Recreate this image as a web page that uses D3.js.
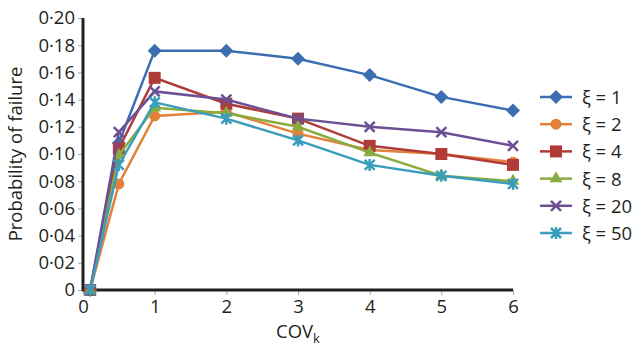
<!DOCTYPE html>
<html>
<head>
<meta charset="utf-8">
<script src="https://cdn.jsdelivr.net/npm/d3@7"></script>
<style>
  body { margin: 0; background: #fff; }
  text { font-family: "Open Sans", "Noto Sans", sans-serif; fill: #231f20; }
</style>
</head>
<body>
<div id="chart"></div>
<script>
var svgWidth = 640;
var svgHeight = 347;

var margin = { top: 18, right: 127, bottom: 57, left: 83 };
var width = svgWidth - margin.left - margin.right;
var height = svgHeight - margin.top - margin.bottom;

// data
var covValues = [0.1, 0.5, 1, 2, 3, 4, 5, 6];
var seriesNames = ["ξ = 1", "ξ = 2", "ξ = 4", "ξ = 8", "ξ = 20", "ξ = 50"];
var xi1 = [0, 0.108, 0.176, 0.176, 0.170, 0.158, 0.142, 0.132];
var xi2 = [0, 0.078, 0.128, 0.131, 0.115, 0.103, 0.100, 0.094];
var xi4 = [0, 0.104, 0.156, 0.137, 0.126, 0.106, 0.100, 0.092];
var xi8 = [0, 0.099, 0.134, 0.130, 0.120, 0.101, 0.084, 0.080];
var xi20 = [0, 0.116, 0.146, 0.140, 0.126, 0.120, 0.116, 0.106];
var xi50 = [0, 0.092, 0.138, 0.126, 0.110, 0.092, 0.084, 0.078];
var xTicks = [0, 1, 2, 3, 4, 5, 6];
var yTicks = [0, 0.02, 0.04, 0.06, 0.08, 0.10, 0.12, 0.14, 0.16, 0.18, 0.20];

var colors = ["#3b6db0", "#e2823a", "#b03b38", "#8aab3f", "#6c4f94", "#3a9dbb"];
var markers = ["diamond", "circle", "square", "triangle", "x", "asterisk"];
var allSeries = [xi1, xi2, xi4, xi8, xi20, xi50];

var svg = d3.select("#chart")
  .append("svg")
  .attr("width", svgWidth)
  .attr("height", svgHeight);

var chartGroup = svg.append("g")
  .attr("transform", `translate(${margin.left}, ${margin.top})`);

var xScale = d3.scaleLinear().domain([0, 6]).range([0, width]);
var yScale = d3.scaleLinear().domain([0, 0.2]).range([height, 0]);

// axes
var fmtY = function(d) { return d === 0 ? "0" : d3.format(".2f")(d).replace(".", "·"); };

var xAxis = chartGroup.append("g")
  .attr("transform", `translate(0, ${height})`)
  .call(d3.axisBottom(xScale).tickValues(xTicks).tickSize(5).tickPadding(5).tickFormat(d3.format("d")));

var yAxis = chartGroup.append("g")
  .call(d3.axisLeft(yScale).tickValues(yTicks).tickSize(5).tickPadding(3).tickFormat(fmtY));

[xAxis, yAxis].forEach(function(ax) {
  ax.select(".domain").remove();
  ax.selectAll(".tick line").attr("stroke", "#a7a9ac").attr("stroke-width", 1);
  ax.selectAll(".tick text").attr("font-size", 18.5).attr("fill", "#231f20")
    .style("font-family", '"Open Sans", "Noto Sans", sans-serif');
});

chartGroup.append("line")
  .attr("x1", 0).attr("x2", 0).attr("y1", 0).attr("y2", height + 1)
  .attr("stroke", "#231f20").attr("stroke-width", 3);
chartGroup.append("line")
  .attr("x1", -1).attr("x2", width).attr("y1", height).attr("y2", height)
  .attr("stroke", "#231f20").attr("stroke-width", 3);

// axis titles
svg.append("text")
  .attr("transform", "translate(22, 154) rotate(-90)")
  .attr("text-anchor", "middle")
  .attr("font-size", 18.5)
  .text("Probability of failure");

var xt = svg.append("text")
  .attr("x", margin.left + xScale(3))
  .attr("y", 338)
  .attr("text-anchor", "middle")
  .attr("font-size", 18.5);
xt.append("tspan").text("COV");
xt.append("tspan").attr("font-size", 13).attr("dy", 5).text("k");

// marker drawing
function drawMarker(g, type, color) {
  if (type === "diamond") {
    g.append("path").attr("d", "M0,-7L7,0L0,7L-7,0Z").attr("fill", color);
  } else if (type === "circle") {
    g.append("circle").attr("r", 5.5).attr("fill", color);
  } else if (type === "square") {
    g.append("rect").attr("x", -6).attr("y", -6).attr("width", 12).attr("height", 12).attr("fill", color);
  } else if (type === "triangle") {
    g.append("path").attr("d", d3.symbol(d3.symbolTriangle, 70)()).attr("fill", color);
  } else if (type === "x") {
    g.append("path").attr("d", "M-5,-5L5,5M-5,5L5,-5").attr("stroke", color).attr("stroke-width", 2.5);
  } else if (type === "asterisk") {
    g.append("path").attr("d", "M-5,-5L5,5M-5,5L5,-5M0,-6L0,6").attr("stroke", color).attr("stroke-width", 2.5);
  }
}

var line = d3.line()
  .x(function(d, i) { return xScale(covValues[i]); })
  .y(function(d) { return yScale(d); });

allSeries.forEach(function(values, s) {
  chartGroup.append("path")
    .datum(values)
    .attr("fill", "none")
    .attr("stroke", colors[s])
    .attr("stroke-width", 2.5)
    .attr("d", line);

  values.forEach(function(v, i) {
    var g = chartGroup.append("g")
      .attr("transform", `translate(${xScale(covValues[i])}, ${yScale(v)})`);
    drawMarker(g, markers[s], colors[s]);
  });
});

// legend
var legend = svg.append("g").attr("transform", "translate(540, 97)");
seriesNames.forEach(function(name, s) {
  var row = legend.append("g").attr("transform", `translate(0, ${s * 27.2})`);
  row.append("line").attr("x1", 0).attr("x2", 32).attr("y1", 0).attr("y2", 0)
    .attr("stroke", colors[s]).attr("stroke-width", 2.5);
  var m = row.append("g").attr("transform", "translate(16, 0)");
  drawMarker(m, markers[s], colors[s]);
  row.append("text").attr("x", 42).attr("y", 7).attr("font-size", 18.5).text(name);
});
</script>
</body>
</html>
